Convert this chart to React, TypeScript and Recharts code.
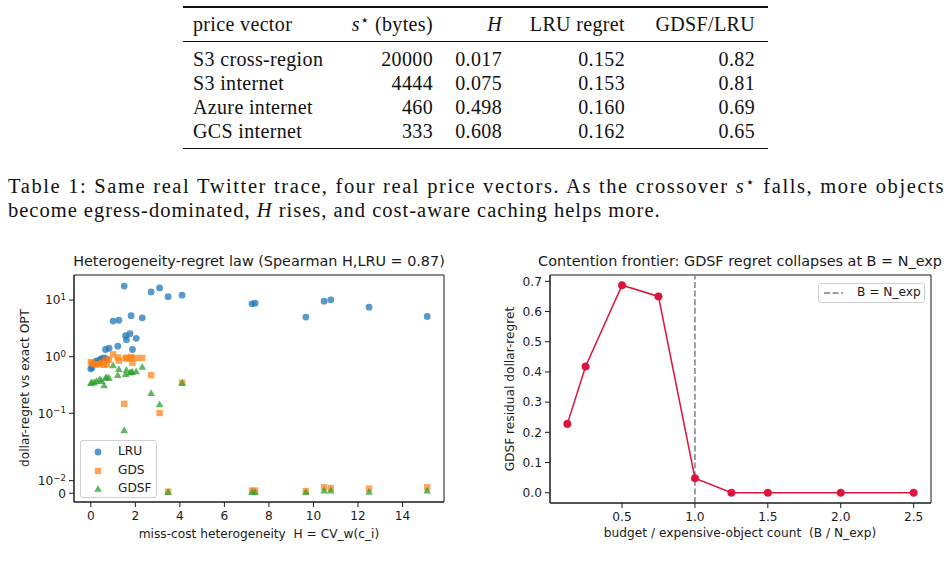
import React from "react";
import {
  Line,
  LineChart,
  ReferenceArea,
  ReferenceLine,
  Scatter,
  ScatterChart,
  XAxis,
  YAxis,
} from "recharts";

// ---- table data ----
const priceVectors = ["S3 cross-region", "S3 internet", "Azure internet", "GCS internet"];
const crossoverBytes = ["20000", "4444", "460", "333"];
const heteroH = ["0.017", "0.075", "0.498", "0.608"];
const lruRegretTable = ["0.152", "0.153", "0.160", "0.162"];
const gdsfOverLru = ["0.82", "0.81", "0.69", "0.65"];

// ---- left chart: one entry per trace ----
const heterogeneity = [
  0.0, 0.05, 0.15, 0.25, 0.4, 0.48, 0.6, 0.66, 0.72, 0.82, 1.0, 1.21, 1.26, 1.5, 1.56, 1.6,
  1.76, 1.81, 1.87, 2.04, 2.31, 2.71, 3.09, 3.47, 4.1, 7.24, 7.38, 9.66, 10.48, 10.78, 12.5, 15.11,
];
const lruRegret = [
  0.61, 0.64, 0.78, 0.84, 0.88, 0.92, 0.95, 1.34, 0.9, 1.41, 4.26, 1.53, 4.4, 17.7, 2.35, 2.0,
  2.55, 5.3, 1.34, 2.11, 4.86, 13.9, 16.4, 11.5, 12.2, 8.6, 8.8, 5.0, 9.55, 10.1, 7.5, 5.15,
];
const gdsRegret = [
  0.8, 0.76, 0.74, 0.73, 0.74, 0.78, 0.72, 0.88, 0.74, 0.88, 1.1, 0.97, 0.85, 0.147, 0.93, 0.96,
  0.93, 0.99, 0.78, 0.95, 0.95, 0.47, 0.101, 0.0013, 0.348, 0.0021, 0.0021, 0.0017, 0.0047, 0.004,
  0.0037, 0.0047,
];
const gdsfRegret = [
  0.34, 0.35, 0.35, 0.37, 0.4, 0.37, 0.31, 0.42, 0.43, 0.42, 0.7, 0.47, 0.6, 0.05, 0.49, 0.58,
  0.52, 0.53, 0.535, 0.55, 0.66, 0.226, 0.143, 0.0008, 0.339, 0.0008, 0.0008, 0.0008, 0.0021,
  0.0021, 0.001, 0.0021,
];
const symlogTicks = [0, 0.01, 0.1, 1, 10];
const heteroTicks = [0, 2, 4, 6, 8, 10, 12, 14];

// ---- right chart ----
const budgetRatio = [0.125, 0.25, 0.5, 0.75, 1.0, 1.25, 1.5, 2.0, 2.5];
const gdsfResidual = [0.228, 0.418, 0.687, 0.65, 0.048, 0, 0, 0, 0];
const budgetTicks = [0.5, 1.0, 1.5, 2.0, 2.5];
const residualTicks = [0, 0.1, 0.2, 0.3, 0.4, 0.5, 0.6, 0.7];

// matplotlib-style symlog (base 10, linscale 1)
const LINTHRESH = 0.05;
const LINSCALE = 1 / (1 - 1 / 10);
function symlog(v: number) {
  return v <= LINTHRESH ? (v / LINTHRESH) * LINSCALE : LINSCALE + Math.log10(v / LINTHRESH);
}

const sans = '"DejaVu Sans", sans-serif';
const serif = '"Liberation Serif", "DejaVu Serif", serif';
const ink = "#1a1a1a";
const FS = 12.2;

const series = [
  { name: "LRU", values: lruRegret, color: "#1f77b4", kind: "circle" },
  { name: "GDS", values: gdsRegret, color: "#ff7f0e", kind: "square" },
  { name: "GDSF", values: gdsfRegret, color: "#2ca02c", kind: "triangle" },
];

function Marker({ kind, cx, cy, color }: { kind: string; cx: number; cy: number; color: string }) {
  if (kind === "circle") return <circle cx={cx} cy={cy} r={3.4} fill={color} fillOpacity={0.75} />;
  if (kind === "square")
    return <rect x={cx - 3.2} y={cy - 3.2} width={6.4} height={6.4} fill={color} fillOpacity={0.7} />;
  return (
    <polygon
      points={`${cx},${cy - 4} ${cx - 3.8},${cy + 2.8} ${cx + 3.8},${cy + 2.8}`}
      fill={color}
      fillOpacity={0.75}
    />
  );
}

function SymlogTick({ x, y, payload }: any) {
  const raw = symlogTicks.find((t) => Math.abs(symlog(t) - payload.value) < 1e-6) ?? 0;
  const exp = raw === 0 ? null : Math.round(Math.log10(raw));
  return (
    <text x={x} y={y} dy="0.36em" textAnchor="end" fontSize={FS} fill={ink} fontFamily={sans}>
      {exp === null ? (
        "0"
      ) : (
        <>
          10
          <tspan dy="-0.5em" fontSize={8.6}>
            {exp < 0 ? `\u2212${-exp}` : exp}
          </tspan>
        </>
      )}
    </text>
  );
}

const starStyle: React.CSSProperties = { fontSize: 15, verticalAlign: 6, lineHeight: 0, fontFamily: '"DejaVu Sans", sans-serif' };

function Table() {
  const rowTops = [47, 71, 95, 119];
  const txt: React.CSSProperties = {
    position: "absolute",
    fontFamily: serif,
    fontSize: 20,
    letterSpacing: 0.35,
    lineHeight: "24px",
    whiteSpace: "nowrap",
    color: "#111",
  };
  const right = (edge: number): React.CSSProperties => ({ ...txt, right: 949 - edge, textAlign: "right" });
  const columns: { edge: number; values: string[] }[] = [
    { edge: 433, values: crossoverBytes },
    { edge: 502, values: heteroH },
    { edge: 625, values: lruRegretTable },
    { edge: 755, values: gdsfOverLru },
  ];
  return (
    <>
      <div style={{ position: "absolute", left: 183, width: 585, top: 6, height: 1.6, background: "#111" }} />
      <div style={{ position: "absolute", left: 183, width: 585, top: 41, height: 1, background: "#111" }} />
      <div style={{ position: "absolute", left: 183, width: 585, top: 147.5, height: 1.6, background: "#111" }} />
      <div style={{ ...txt, left: 193, top: 12 }}>price vector</div>
      <div style={{ ...right(433), top: 12 }}>
        <i>s</i>
        <sup style={starStyle}>⋆</sup> (bytes)
      </div>
      <div style={{ ...right(502), top: 12 }}>
        <i>H</i>
      </div>
      <div style={{ ...right(625), top: 12 }}>LRU regret</div>
      <div style={{ ...right(755), top: 12 }}>GDSF/LRU</div>
      {priceVectors.map((p, i) => (
        <div key={p} style={{ ...txt, left: 193, top: rowTops[i] }}>
          {p}
        </div>
      ))}
      {columns.map((c) =>
        c.values.map((v, i) => (
          <div key={c.edge + "-" + i} style={{ ...right(c.edge), top: rowTops[i] }}>
            {v}
          </div>
        ))
      )}
    </>
  );
}

function Caption() {
  const line: React.CSSProperties = {
    position: "absolute",
    left: 8,
    fontFamily: serif,
    fontSize: 20.5,
    letterSpacing: 1,
    lineHeight: "24px",
    whiteSpace: "nowrap",
    color: "#111",
  };
  return (
    <>
      <div
        style={{
          ...line,
          top: 174,
          width: 937,
          letterSpacing: 1.6,
          whiteSpace: "normal",
          textAlign: "justify",
          textAlignLast: "justify",
        }}
      >
        Table 1: Same real Twitter trace, four real price vectors. As the crossover <i>s</i>
        <sup style={starStyle}>⋆</sup> falls, more objects
      </div>
      <div style={{ ...line, top: 198 }}>
        become egress-dominated, <i>H</i> rises, and cost-aware caching helps more.
      </div>
    </>
  );
}

function HeteroChart() {
  const ticks = symlogTicks.map(symlog);
  return (
    <div style={{ position: "absolute", left: 0, top: 250 }}>
      <ScatterChart width={470} height={300} margin={{ top: 25, right: 26, left: 0, bottom: 0 }}>
        <XAxis
          type="number"
          dataKey="h"
          domain={[-0.755, 15.865]}
          ticks={heteroTicks}
          interval={0}
          allowDataOverflow
          height={48}
          tickSize={5}
          tickMargin={4}
          stroke={ink}
          tick={{ fontSize: FS, fill: ink, fontFamily: sans }}
        />
        <YAxis
          type="number"
          dataKey="v"
          domain={[-0.155, 3.855]}
          ticks={ticks}
          interval={0}
          allowDataOverflow
          width={74}
          tickSize={5}
          tickMargin={3}
          stroke={ink}
          tick={<SymlogTick />}
        />
        <ReferenceArea x1={-0.755} x2={15.865} y1={-0.155} y2={3.855} fill="none" stroke={ink} strokeWidth={1} />
        {series.map((s) => (
          <Scatter
            key={s.name}
            name={s.name}
            data={heterogeneity.map((h, i) => ({ h, v: symlog(s.values[i]) }))}
            fill={s.color}
            isAnimationActive={false}
            shape={(p: any) => <Marker kind={s.kind} cx={p.cx} cy={p.cy} color={s.color} />}
          />
        ))}
      </ScatterChart>
      <div
        style={{
          position: "absolute",
          left: 80,
          top: 190,
          width: 75,
          height: 56,
          border: "1px solid #d0d0d0",
          borderRadius: 3,
          background: "rgba(255,255,255,0.8)",
          fontFamily: sans,
          fontSize: FS,
          color: ink,
        }}
      >
        {series.map((s, i) => (
          <div key={s.name} style={{ position: "absolute", left: 0, top: 3 + i * 18.5, height: 16, width: 75 }}>
            <svg width={30} height={16} style={{ position: "absolute", left: 3, top: 0 }}>
              <Marker kind={s.kind} cx={14} cy={8} color={s.color} />
            </svg>
            <span style={{ position: "absolute", left: 37, top: 0, lineHeight: "15px" }}>{s.name}</span>
          </div>
        ))}
      </div>
    </div>
  );
}

function FrontierChart() {
  const data = budgetRatio.map((b, i) => ({ b, r: gdsfResidual[i] }));
  return (
    <div style={{ position: "absolute", left: 480, top: 250 }}>
      <LineChart width={469} height={300} data={data} margin={{ top: 25, right: 18, left: 0, bottom: 0 }}>
        <XAxis
          type="number"
          dataKey="b"
          domain={[0.006, 2.619]}
          ticks={budgetTicks}
          interval={0}
          allowDataOverflow
          height={47}
          tickSize={5}
          tickMargin={4}
          stroke={ink}
          tickFormatter={(v: number) => v.toFixed(1)}
          tick={{ fontSize: FS, fill: ink, fontFamily: sans }}
        />
        <YAxis
          type="number"
          domain={[-0.034, 0.721]}
          ticks={residualTicks}
          interval={0}
          allowDataOverflow
          width={70}
          tickSize={5}
          tickMargin={3}
          stroke={ink}
          tickFormatter={(v: number) => v.toFixed(1)}
          tick={{ fontSize: FS, fill: ink, fontFamily: sans }}
        />
        <ReferenceArea x1={0.006} x2={2.619} y1={-0.034} y2={0.721} fill="none" stroke={ink} strokeWidth={1} />
        <ReferenceLine x={1} stroke="#7f7f7f" strokeWidth={1.5} strokeDasharray="6 2.6" />
        <Line
          type="linear"
          dataKey="r"
          stroke="#dc143c"
          strokeWidth={1.5}
          dot={{ r: 3.8, fill: "#dc143c", stroke: "#dc143c", strokeWidth: 0.5 }}
          isAnimationActive={false}
        />
      </LineChart>
      <div
        style={{
          position: "absolute",
          left: 338,
          top: 33,
          width: 105,
          height: 18,
          border: "1px solid #d0d0d0",
          borderRadius: 3,
          background: "rgba(255,255,255,0.8)",
          fontFamily: sans,
          fontSize: FS,
          color: ink,
        }}
      >
        <svg width={22} height={18} style={{ position: "absolute", left: 4, top: 0 }}>
          <line x1={1} y1={9} x2={20} y2={9} stroke="#7f7f7f" strokeWidth={1.5} strokeDasharray="6 2.6" />
        </svg>
        <span style={{ position: "absolute", left: 38, top: 1, lineHeight: "15px" }}>B = N_exp</span>
      </div>
    </div>
  );
}

const labelStyle: React.CSSProperties = {
  position: "absolute",
  fontFamily: sans,
  fontSize: FS,
  color: ink,
  whiteSpace: "pre",
  lineHeight: "15px",
};

export default function App() {
  return (
    <div
      style={{
        position: "absolute",
        left: 0,
        top: 0,
        width: 949,
        height: 585,
        background: "#fff",
        overflow: "hidden",
      }}
    >
      <Table />
      <Caption />
      <div style={{ ...labelStyle, fontSize: 14.4, lineHeight: "17px", left: 259, top: 253, transform: "translateX(-50%)" }}>
        Heterogeneity-regret law (Spearman H,LRU = 0.87)
      </div>
      <div style={{ ...labelStyle, fontSize: 14.4, lineHeight: "17px", left: 740, top: 253, transform: "translateX(-50%)" }}>
        Contention frontier: GDSF regret collapses at B = N_exp
      </div>
      <HeteroChart />
      <FrontierChart />
      <div style={{ ...labelStyle, left: 259, top: 527, transform: "translateX(-50%)" }}>
        {"miss-cost heterogeneity  H = CV_w(c_i)"}
      </div>
      <div style={{ ...labelStyle, left: 740, top: 526, transform: "translateX(-50%)" }}>
        {"budget / expensive-object count  (B / N_exp)"}
      </div>
      <div
        style={{ ...labelStyle, left: 25, top: 388, transform: "translate(-50%, -50%) rotate(-90deg)" }}
      >
        dollar-regret vs exact OPT
      </div>
      <div
        style={{ ...labelStyle, left: 510, top: 389, transform: "translate(-50%, -50%) rotate(-90deg)" }}
      >
        GDSF residual dollar-regret
      </div>
    </div>
  );
}
